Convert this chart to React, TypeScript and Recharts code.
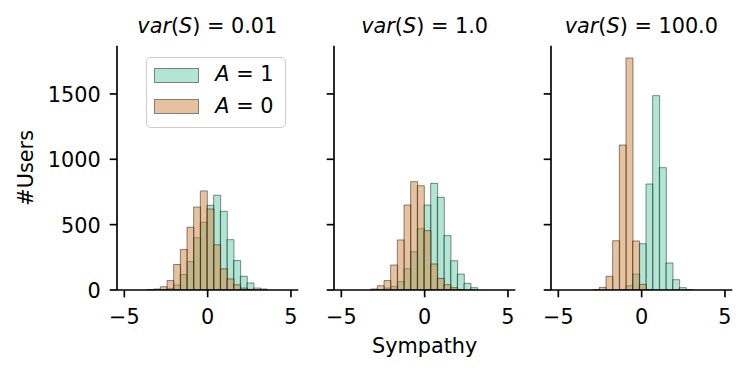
import React from 'react';
import { Bar, BarChart, Legend, XAxis, YAxis } from 'recharts';

// shared axes
const X_TICKS = [-5, 0, 5];
const Y_TICKS = [0, 500, 1000, 1500];
const X_DOMAIN: [number, number] = [-5.44, 5.44];
const Y_DOMAIN: [number, number] = [0, 1869];

// var(S) = 0.01
const BINS_LOW = [-3.44, -3.04, -2.64, -2.24, -1.84, -1.44, -1.04, -0.64, -0.24, 0.16, 0.56, 0.96, 1.36, 1.76, 2.16, 2.56, 2.96, 3.36];
const A1_LOW = [0, 0, 3, 12, 38, 118, 218, 400, 518, 648, 725, 602, 385, 225, 105, 54, 15, 8];
const A0_LOW = [3, 8, 25, 72, 195, 310, 480, 635, 758, 620, 346, 162, 85, 40, 15, 5, 0, 0];

// var(S) = 1.0
const BINS_MID = [-3.04, -2.64, -2.24, -1.84, -1.44, -1.04, -0.64, -0.24, 0.16, 0.56, 0.96, 1.36, 1.76, 2.16, 2.56, 2.96];
const A1_MID = [0, 2, 15, 26, 64, 163, 293, 469, 650, 816, 709, 416, 224, 122, 51, 18];
const A0_MID = [8, 33, 72, 191, 383, 650, 829, 798, 454, 199, 89, 41, 18, 3, 0, 0];

// var(S) = 100.0
const BINS_HIGH = [-2.74, -2.34, -1.94, -1.54, -1.14, -0.74, -0.34, 0.06, 0.46, 0.86, 1.26, 1.66, 2.06, 2.46, 2.86];
const A1_HIGH = [0, 0, 0, 0, 2, 33, 122, 354, 811, 1487, 936, 207, 79, 18, 2];
const A0_HIGH = [1, 20, 105, 377, 1109, 1775, 375, 43, 2, 0, 0, 0, 0, 0, 0];

const TITLES = ['0.01', '1.0', '100.0'];
const LEGEND_ORDER = ['a1', 'a0'];
const LEGEND_LABEL: Record<string, string> = { a1: '1', a0: '0' };

const FONT = '"DejaVu Sans", sans-serif';
const FS = 20.8;
const GREEN = '#66cdaa';
const ORANGE = '#cd853f';
const EDGE = { stroke: '#000', strokeOpacity: 0.45, strokeWidth: 1 };
const SPINE = { stroke: '#000', strokeWidth: 1.67 };

const PLOT_LEFT = [116.7, 334, 550.7];
const PLOT_W = 181.3;
const PLOT_TOP = 45.7;
const PLOT_BOTTOM = 290;

const fmt = (v: number) => (v < 0 ? `\u2212${Math.abs(v)}` : `${v}`);

const XTick = (props: any) => {
  const { x, y, payload } = props;
  return (
    <text x={x} y={y} dy={27} textAnchor="middle" fontFamily={FONT} fontSize={FS} fill="#000">
      {fmt(payload.value)}
    </text>
  );
};

const YTick = (props: any) => {
  const { x, y, payload } = props;
  return (
    <text x={x - 9} y={y} dy={8} textAnchor="end" fontFamily={FONT} fontSize={FS} fill="#000">
      {payload.value}
    </text>
  );
};

// sharey: tick marks stay, labels go
const NoTick = () => <g />;

const LegendBox = (props: any) => {
  const payload = [...(props.payload || [])].sort(
    (a: any, b: any) => LEGEND_ORDER.indexOf(a.dataKey) - LEGEND_ORDER.indexOf(b.dataKey)
  );
  return (
    <div
      style={{
        position: 'relative',
        width: 140.3,
        height: 71,
        boxSizing: 'border-box',
        border: '1.3px solid #cccccc',
        borderRadius: 5,
        background: 'rgba(255,255,255,0.8)',
      }}
    >
      {payload.map((entry: any, i: number) => (
        <div
          key={entry.dataKey}
          style={{
            position: 'absolute',
            left: 7.3,
            top: 9.4 + i * 31.4,
            width: 44.7,
            height: 15,
            boxSizing: 'border-box',
            background: entry.color,
            opacity: 0.5,
            border: '1px solid #000',
          }}
        />
      ))}
      <svg style={{ position: 'absolute', left: 0, top: 0, overflow: 'visible' }} width={140} height={71}>
        {payload.map((entry: any, i: number) => (
          <text key={entry.dataKey} x={68.3} y={23 + i * 31.8} fontFamily={FONT} fontSize={FS} fill="#000">
            <tspan fontStyle="italic">A</tspan>
            {' = '}
            {LEGEND_LABEL[entry.dataKey] ?? ''}
          </text>
        ))}
      </svg>
    </div>
  );
};

const Panel: React.FC<{
  bins: number[];
  a1: number[];
  a0: number[];
  index: number;
}> = ({ bins, a1, a0, index }) => {
  const data = bins.map((x, i) => ({ x, a1: a1[i], a0: a0[i] }));
  const left = PLOT_LEFT[index] - 100;
  return (
    <div style={{ position: 'absolute', left, top: 0 }}>
      <BarChart
        width={100 + PLOT_W + 10}
        height={373}
        data={data}
        margin={{ top: PLOT_TOP, right: 10, left: 40, bottom: 373 - PLOT_BOTTOM - 30 }}
        barCategoryGap={0}
        barGap={0}
      >
        <XAxis
          xAxisId="a1"
          type="number"
          dataKey="x"
          domain={X_DOMAIN}
          ticks={X_TICKS}
          allowDataOverflow
          interval={0}
          height={30}
          tickSize={7.3}
          tickMargin={0}
          axisLine={SPINE}
          tickLine={SPINE}
          tick={<XTick />}
        />
        <XAxis
          xAxisId="a0"
          orientation="top"
          type="number"
          dataKey="x"
          domain={X_DOMAIN}
          allowDataOverflow
          hide
        />
        <YAxis
          type="number"
          domain={Y_DOMAIN}
          ticks={Y_TICKS}
          allowDataOverflow
          interval={0}
          width={60}
          tickSize={7.3}
          tickMargin={0}
          axisLine={SPINE}
          tickLine={SPINE}
          tick={index === 0 ? <YTick /> : <NoTick />}
        />
        <Bar xAxisId="a1" dataKey="a1" fill={GREEN} fillOpacity={0.5} {...EDGE} isAnimationActive={false} />
        <Bar xAxisId="a0" dataKey="a0" fill={ORANGE} fillOpacity={0.5} {...EDGE} isAnimationActive={false} />
        {index === 0 && (
          <Legend
            layout="vertical"
            align="center"
            verticalAlign="middle"
            content={<LegendBox />}
            wrapperStyle={{ left: 129, top: 57.3, width: 141, height: 71 }}
          />
        )}
      </BarChart>
    </div>
  );
};

export default function App() {
  const panels = [
    { bins: BINS_LOW, a1: A1_LOW, a0: A0_LOW },
    { bins: BINS_MID, a1: A1_MID, a0: A0_MID },
    { bins: BINS_HIGH, a1: A1_HIGH, a0: A0_HIGH },
  ];
  return (
    <div style={{ position: 'absolute', left: 0, top: 0, width: 747, height: 373, background: '#fff' }}>
      {panels.map((p, i) => (
        <Panel key={i} index={i} bins={p.bins} a1={p.a1} a0={p.a0} />
      ))}
      <svg width={747} height={373} style={{ position: 'absolute', left: 0, top: 0, pointerEvents: 'none' }}>
        {TITLES.map((t, i) => (
          <text
            key={t}
            x={PLOT_LEFT[i] + PLOT_W / 2}
            y={32.7}
            textAnchor="middle"
            fontFamily={FONT}
            fontSize={FS}
            fill="#000"
          >
            <tspan fontStyle="italic">var</tspan>(<tspan fontStyle="italic">S</tspan>) = {t}
          </text>
        ))}
        <text
          x={33}
          y={(PLOT_TOP + PLOT_BOTTOM) / 2}
          transform={`rotate(-90 33 ${(PLOT_TOP + PLOT_BOTTOM) / 2})`}
          textAnchor="middle"
          fontFamily={FONT}
          fontSize={FS}
          fill="#000"
        >
          #Users
        </text>
        <text x={PLOT_LEFT[1] + PLOT_W / 2} y={352.7} textAnchor="middle" fontFamily={FONT} fontSize={FS} fill="#000">
          Sympathy
        </text>
      </svg>
    </div>
  );
}
